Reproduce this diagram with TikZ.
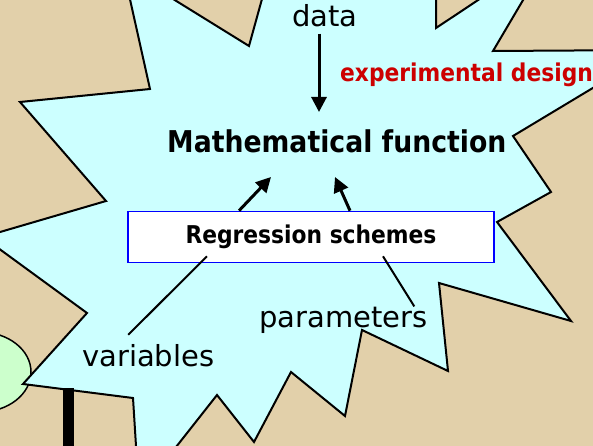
\documentclass[tikz,border=0pt]{standalone}
\usepackage{fontspec}
\setmainfont{DejaVu Sans}
\newfontfamily\narrowsans{DejaVu Sans}[FakeStretch=0.89]
\usetikzlibrary{arrows.meta}
\definecolor{parch}{RGB}{226,208,170}
\definecolor{burst}{RGB}{204,255,255}
\definecolor{leaf}{RGB}{204,255,204}
\definecolor{dred}{RGB}{204,0,0}

\begin{document}
\begin{tikzpicture}[x=1pt,y=-1pt,
  every node/.style={inner sep=0pt,anchor=base west},
  word/.style={font=\fontsize{29}{34}\selectfont},
  title/.style={font=\fontsize{30}{36}\narrowsans\bfseries},
  tag/.style={font=\fontsize{24.5}{29}\narrowsans\bfseries},
  schemebox/.style={draw=blue,fill=white,line width=1.6pt,anchor=center,
    minimum width=366pt,minimum height=51pt},
  arrow/.style={-{Triangle[length=15pt,width=15pt]},line width=3pt},
  lead/.style={line width=2pt}
]
  \useasboundingbox (0,0) rectangle (593,446);
  \fill[parch] (0,0) rectangle (593,446);

  % star burst, cut at the frame
  \begin{scope}
    \clip (0,0) rectangle (593,446);
    \draw[fill=leaf,line width=1.5pt] (-20,372) ellipse [x radius=51pt,y radius=40pt];
    \draw[fill=burst,line width=2pt,line join=miter]
      (106,201) -- (20,102) -- (150,89) -- (123,-32) -- (249,46) -- (270,-30)
      -- (350,-10) -- (436,-30) -- (436,28) -- (552,-49) -- (493,51) -- (656,50)
      -- (513,136) -- (551,192) -- (497,222) -- (571,321) -- (439,283) -- (448,371)
      -- (362,330) -- (345,416) -- (291,372) -- (254,442) -- (217,395) -- (139,494)
      -- (133,398) -- (23,384) -- (87,313) -- (-17,237) -- cycle;
    \fill (63,388) rectangle (74,446);
  \end{scope}

  \node[word] (data) at (292,27) {data};
  \node[tag,text=dred] (design) at (340,82) {experimental design};
  \node[title] (func) at (167,153) {Mathematical function};
  \node[schemebox,tag] (box) at (311,237) {Regression schemes};
  \node[word] (vars) at (82,366) {variables};
  \node[word] (params) at (259,327) {parameters};

  \coordinate (dtip) at (319,112);
  \coordinate (ltip) at (271,177);
  \coordinate (rtip) at (335,177);

  \draw[arrow,shorten <=6pt] (data.south -| dtip) -- (dtip);
  \draw[arrow] ([xshift=-72pt]box.north) -- (ltip);
  \draw[arrow] ([xshift=39pt]box.north) -- (rtip);
  \draw[lead] ([xshift=-104pt,yshift=7pt]box.south) -- ([xshift=-20pt,yshift=9pt]vars.north);
  \draw[lead] ([xshift=72pt,yshift=7pt]box.south) -- ([xshift=71pt]params.north);
\end{tikzpicture}
\end{document}
